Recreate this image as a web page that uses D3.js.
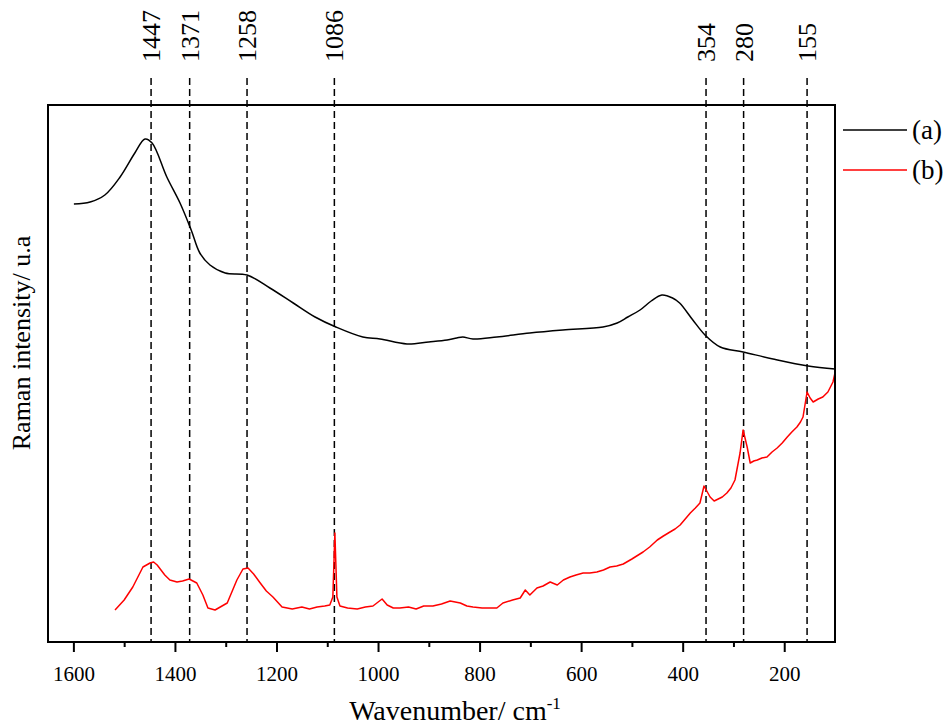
<!DOCTYPE html>
<html>
<head>
<meta charset="utf-8">
<script src="https://cdn.jsdelivr.net/npm/d3@7"></script>
<style>
  body { margin: 0; background: #fff; }
</style>
</head>
<body>
<svg id="chart" width="947" height="725" style="font-family: 'Liberation Serif', 'DejaVu Serif', serif;"></svg>
<script>
// spectrum (a), wavenumber / intensity (arb.)
var waveA = [1599, 1567, 1538, 1508, 1479, 1459, 1445, 1416, 1390, 1368, 1351, 1331, 1301, 1258, 1213, 1167, 1124, 1083, 1030, 996, 943, 900, 864, 845, 833, 813, 766, 701, 636, 557, 529, 508, 484, 462, 441, 420, 406, 380, 356, 326, 281, 222, 153, 100];
var intA  = [438, 440, 447, 465, 489, 503, 499, 465, 439, 412, 389, 377, 369, 367, 354, 339, 325, 315, 305, 303, 298, 300, 302, 304, 305, 303, 305, 309, 312, 315, 319, 325, 332, 341, 347, 344, 339, 322, 307, 295, 290, 283, 276, 273];

// spectrum (b)
var waveB = [1518, 1500, 1483, 1463, 1449, 1442, 1435, 1420, 1410, 1396, 1385, 1372, 1357, 1345, 1335, 1321, 1297, 1278, 1266, 1256, 1245, 1232, 1220, 1207, 1189, 1169, 1150, 1135, 1120, 1105, 1095, 1089, 1085, 1081, 1075, 1060, 1041, 1025, 1010, 992, 982, 970, 957, 940, 925, 910, 892, 875, 858, 838, 825, 813, 795, 779, 766, 754, 735, 720, 710, 701, 687, 675, 661, 647, 635, 622, 610, 596, 583, 569, 556, 543, 530, 517, 500, 478, 465, 450, 438, 425, 415, 405, 395, 385, 375, 366, 358, 346, 338, 330, 322, 313, 305, 297, 287, 281, 273, 267, 260, 253, 244, 234, 224, 214, 204, 194, 185, 175, 168, 163, 155, 149, 143, 133, 124, 114, 104, 100];
var intB  = [32, 42, 55, 75, 79, 80, 77, 67, 62, 60, 61, 63, 59, 47, 34, 32, 39, 62, 73, 74, 68, 59, 51, 45, 35, 33, 35, 33, 35, 36, 37, 45, 109, 45, 36, 34, 33, 35, 36, 43, 37, 34, 34, 35, 33, 36, 36, 38, 41, 39, 36, 35, 34, 34, 34, 39, 42, 44, 52, 47, 54, 56, 60, 57, 62, 65, 67, 69, 69, 70, 72, 75, 76, 78, 83, 90, 95, 102, 106, 110, 113, 117, 123, 129, 134, 139, 156, 145, 141, 143, 145, 149, 154, 162, 189, 212, 195, 179, 181, 182, 184, 185, 190, 194, 199, 205, 210, 215, 220, 225, 250, 244, 240, 243, 245, 250, 260, 269];

var xTicks = [1600, 1400, 1200, 1000, 800, 600, 400, 200];
var xMinor = [1500, 1300, 1100, 900, 700, 500, 300];
var peaks = [1447, 1371, 1258, 1086, 354, 280, 155];
var seriesNames = ["(a)", "(b)"];
var seriesColors = ["#000000", "#ff0000"];

var FONT = "'Liberation Serif', 'DejaVu Serif', serif";

var svg = d3.select("#chart");
var plotL = 48, plotR = 835, plotT = 105, plotB = 642;

var xScale = d3.scaleLinear().domain([1650, 100]).range([plotL, plotR]);
var yScale = d3.scaleLinear().domain([0, 537]).range([plotB, plotT]);

var lineSmooth = d3.line()
  .curve(d3.curveCatmullRom.alpha(0.5))
  .x(function(d){ return xScale(d[0]); })
  .y(function(d){ return yScale(d[1]); });
var lineRaw = d3.line()
  .x(function(d){ return xScale(d[0]); })
  .y(function(d){ return yScale(d[1]); });

var dataA = waveA.map(function(w, i){ return [w, intA[i]]; });
var dataB = waveB.map(function(w, i){ return [w, intB[i]]; });

// peak markers
svg.selectAll("line.peak")
  .data(peaks)
  .enter().append("line")
  .attr("class", "peak")
  .attr("x1", function(d){ return xScale(d); })
  .attr("x2", function(d){ return xScale(d); })
  .attr("y1", 78)
  .attr("y2", plotB)
  .attr("stroke", "#000")
  .attr("stroke-width", 1.5)
  .attr("stroke-dasharray", "7,4");

svg.selectAll("text.peak")
  .data(peaks)
  .enter().append("text")
  .attr("class", "peak")
  .attr("transform", function(d){ return "translate(" + xScale(d) + ",62) rotate(-90)"; })
  .attr("dy", "0.35em")
  .attr("font-family", FONT)
  .attr("font-size", 26)
  .text(function(d){ return d; });

// spectra
svg.append("path")
  .attr("d", lineSmooth(dataA))
  .attr("fill", "none")
  .attr("stroke", seriesColors[0])
  .attr("stroke-width", 1.5);

svg.append("path")
  .attr("d", lineRaw(dataB))
  .attr("fill", "none")
  .attr("stroke", seriesColors[1])
  .attr("stroke-width", 1.5)
  .attr("stroke-linejoin", "round");

// frame
svg.append("rect")
  .attr("x", plotL).attr("y", plotT)
  .attr("width", plotR - plotL).attr("height", plotB - plotT)
  .attr("fill", "none")
  .attr("stroke", "#000")
  .attr("stroke-width", 2);

// x axis
var gx = svg.append("g")
  .attr("transform", "translate(0," + plotB + ")")
  .call(d3.axisBottom(xScale).tickValues(xTicks).tickSize(10).tickSizeOuter(0).tickPadding(14).tickFormat(d3.format("d")));
gx.select(".domain").remove();
gx.attr("font-family", FONT).attr("font-size", 21);
gx.selectAll(".tick line").attr("stroke-width", 2);

var gm = svg.append("g")
  .attr("transform", "translate(0," + plotB + ")")
  .call(d3.axisBottom(xScale).tickValues(xMinor).tickSize(5).tickFormat(""));
gm.select(".domain").remove();
gm.selectAll(".tick line").attr("stroke-width", 2);

// axis titles
var xt = svg.append("text")
  .attr("x", 455).attr("y", 720)
  .attr("text-anchor", "middle")
  .attr("font-family", FONT)
  .attr("font-size", 28);
xt.append("tspan").text("Wavenumber/ cm");
xt.append("tspan").attr("dy", -11).attr("font-size", 17).text("-1");

svg.append("text")
  .attr("transform", "translate(30,343) rotate(-90)")
  .attr("text-anchor", "middle")
  .attr("font-family", FONT)
  .attr("font-size", 26)
  .text("Raman intensity/ u.a");

// legend
var leg = svg.selectAll("g.legend")
  .data(seriesNames)
  .enter().append("g")
  .attr("class", "legend")
  .attr("transform", function(d, i){ return "translate(843," + (130 + i * 40) + ")"; });
leg.append("line")
  .attr("x1", 0).attr("x2", 64)
  .attr("stroke", function(d, i){ return seriesColors[i]; })
  .attr("stroke-width", 1.5);
leg.append("text")
  .attr("x", 69).attr("dy", "0.33em")
  .attr("font-family", FONT)
  .attr("font-size", 27)
  .text(function(d){ return d; });
</script>
</body>
</html>
